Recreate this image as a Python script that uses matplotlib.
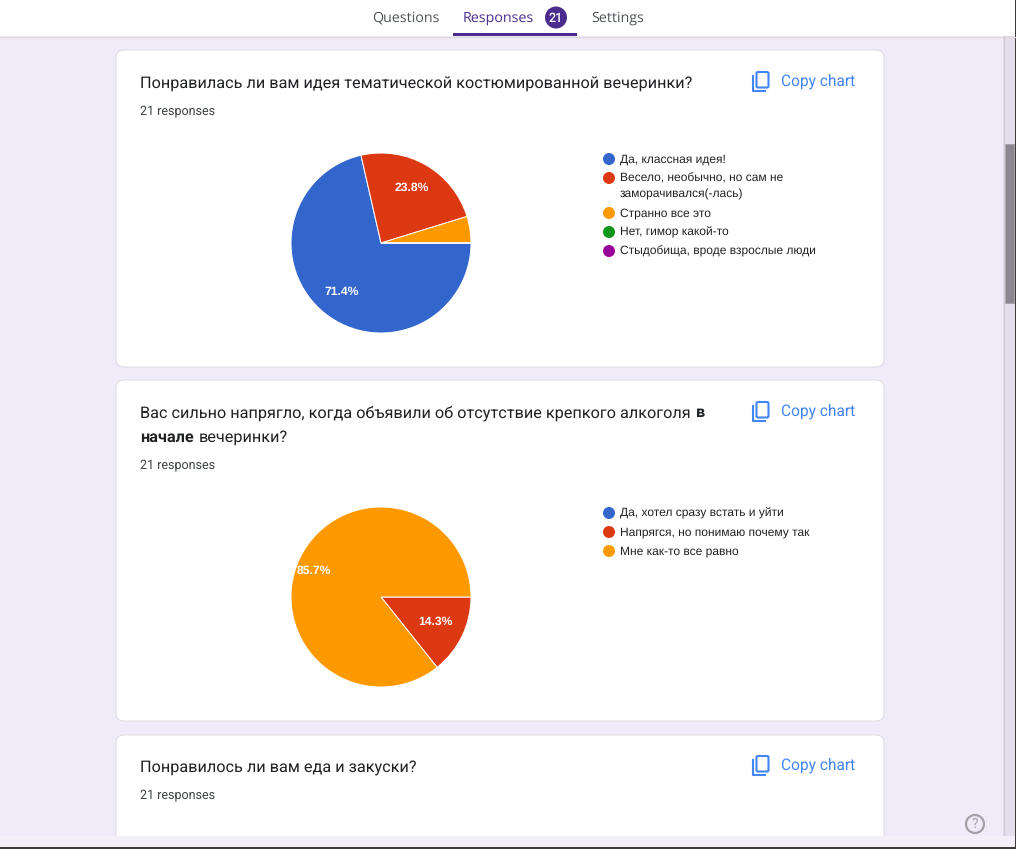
import matplotlib
matplotlib.use("Agg")
import matplotlib.pyplot as plt
from matplotlib.patches import FancyBboxPatch, Rectangle, Circle

# glyph advances snap to whole pixels otherwise, which makes long titles jump in width
plt.rcParams["text.hinting"] = "no_hinting"

tabs = ["Questions", "Responses", "Settings"]
response_count = "21"
copy_label = "Copy chart"
responses_label = "21 responses"

title1 = "Понравилась ли вам идея тематической костюмированной вечеринки?"
labels1 = ["Да, классная идея!", "Весело, необычно, но сам не\nзаморачивался(-лась)",
           "Странно все это", "Нет, гимор какой-то", "Стыдобища, вроде взрослые люди"]
values1 = [15, 5, 1, 0, 0]

title2a = "Вас сильно напрягло, когда объявили об отсутствие крепкого алкоголя"
labels2 = ["Да, хотел сразу встать и уйти", "Напрягся, но понимаю почему так", "Мне как-то все равно"]
values2 = [0, 3, 18]

title3 = "Понравилось ли вам еда и закуски?"

colors = ["#3366cc", "#dc3912", "#ff9900", "#109618", "#990099"]
BLUE = "#4285f4"
PURPLE = "#4a2c8f"
TITLE_SIZE = 11.74

fig = plt.figure(figsize=(10.16, 8.49), dpi=100, facecolor="#f0ebf8")
ax = fig.add_axes([0, 0, 1, 1])
ax.set_xlim(0, 1016)
ax.set_ylim(849, 0)
ax.axis("off")

# header and the strips round the page
ax.add_patch(Rectangle((0, 0), 1016, 36, fc="white", ec="none"))
ax.plot([0, 1016], [36.5, 36.5], color="#dcd9e0", lw=1)
ax.add_patch(Rectangle((1003, 36), 12, 800, fc="#e4dfeb", ec="none"))
ax.plot([1003.5, 1003.5], [36, 836], color="#cfcad6", lw=1)
ax.add_patch(Rectangle((1005, 144), 9, 159, fc="#8a8790", ec="#9c99a2", lw=0.5))
ax.add_patch(Rectangle((1015, 0), 1, 849, fc="#3c3c3c", ec="none"))

ax.text(405.5, 18, tabs[0], family="Open Sans", fontsize=10.3, color="#4f5358", ha="center", va="center", weight="medium")
ax.text(498, 18, tabs[1], family="Open Sans", fontsize=10.3, color=PURPLE, ha="center", va="center", weight="medium")
ax.text(617.5, 18, tabs[2], family="Open Sans", fontsize=10.3, color="#4f5358", ha="center", va="center", weight="medium")
ax.add_patch(Circle((556, 17.5), 11, fc=PURPLE, ec="none"))
ax.text(556, 18, response_count, family="Roboto", fontsize=9, color="white", ha="center", va="center", weight="medium")
ax.add_patch(Rectangle((453, 33), 124, 3, fc=PURPLE, ec="none"))


def card(y0, y1):
    ax.add_patch(FancyBboxPatch((116, y0), 768, y1 - y0, boxstyle="round,pad=0,rounding_size=8",
                                fc="white", ec="#dadce0", lw=0.7, zorder=1))


def copy_icon(y):
    ax.add_patch(FancyBboxPatch((756.5, y - 9), 12, 15.5, boxstyle="round,pad=0,rounding_size=1.5",
                                fc="none", ec=BLUE, lw=1.5, zorder=3))
    ax.plot([753, 753, 765], [y - 5, y + 10, y + 10], color=BLUE, lw=1.5, zorder=3)
    ax.text(781, y + 0.5, copy_label, family="Roboto", fontsize=11.2, color=BLUE, va="center", zorder=3)


def pie(values, cy):
    wedges, _ = ax.pie(values, colors=colors, center=(381, cy), radius=90, startangle=0, counterclock=True,
                       wedgeprops=dict(ec="white", lw=0.7), frame=True)
    for w in wedges:
        w.set_zorder(3)


def legend(labels, ys):
    for i, (lab, y) in enumerate(zip(labels, ys)):
        ax.add_patch(Circle((609, y), 6, fc=colors[i], ec="none", zorder=3))
        lines = lab.split("\n")
        for j, line in enumerate(lines):
            ax.text(620, y + j * 15.5 + 0.5, line, family="Liberation Sans", fontsize=8.65, color="#222222",
                    va="center", zorder=3)


def pct(x, y, s):
    ax.text(x, y, s, family="Liberation Sans", fontsize=8.7, color="white", ha="center", va="center",
            weight="bold", zorder=4)


card(50, 367)
card(380, 721)
card(735, 900)
ax.add_patch(Rectangle((0, 836), 1015, 11, fc="#f3eff9", ec="none", zorder=2))
ax.add_patch(Rectangle((0, 847), 1016, 2, fc="#3c3c3c", ec="none", zorder=2))

# first question
ax.text(140, 83, title1, family="Roboto", fontsize=TITLE_SIZE, color="#202124", va="center", zorder=3)
ax.text(140, 111.5, responses_label, family="Roboto", fontsize=9, color="#3c4043", va="center", zorder=3)
copy_icon(81)
pie(values1, 243)
pct(342, 292, "71.4%")
pct(412, 188, "23.8%")
legend(labels1, [159, 178, 213, 232, 251])

# second question
ax.text(140, 413, title2a, family="Roboto", fontsize=11.68, color="#202124", va="center", zorder=3)
ax.text(696, 413, "в", family="Roboto", fontsize=TITLE_SIZE, color="#202124", va="center", weight="bold", zorder=3)
ax.text(140, 437, "начале", family="Roboto", fontsize=TITLE_SIZE, color="#202124", va="center", weight="bold", zorder=3)
ax.text(199, 437, "вечеринки?", family="Roboto", fontsize=TITLE_SIZE, color="#202124", va="center", zorder=3)
ax.text(140, 465.5, responses_label, family="Roboto", fontsize=9, color="#3c4043", va="center", zorder=3)
copy_icon(411)
pie(values2, 597)
pct(313.5, 571, "85.7%")
pct(435, 622, "14.3%")
legend(labels2, [513, 532, 551])

# third question, cut off by the window
ax.text(140, 767, title3, family="Roboto", fontsize=TITLE_SIZE, color="#202124", va="center", zorder=3)
ax.text(140, 795.5, responses_label, family="Roboto", fontsize=9, color="#3c4043", va="center", zorder=3)
copy_icon(765)

# help button
ax.add_patch(Circle((975, 824), 9, fc="none", ec="#a3a1a8", lw=1.6, zorder=3))
ax.text(975, 824.5, "?", family="Roboto", fontsize=10, color="#a3a1a8", ha="center", va="center", zorder=3)

ax.set_xlim(0, 1016)
ax.set_ylim(849, 0)
ax.set_aspect("auto")
ax.axis("off")
fig.savefig("out.png", dpi=100, facecolor=fig.get_facecolor())
